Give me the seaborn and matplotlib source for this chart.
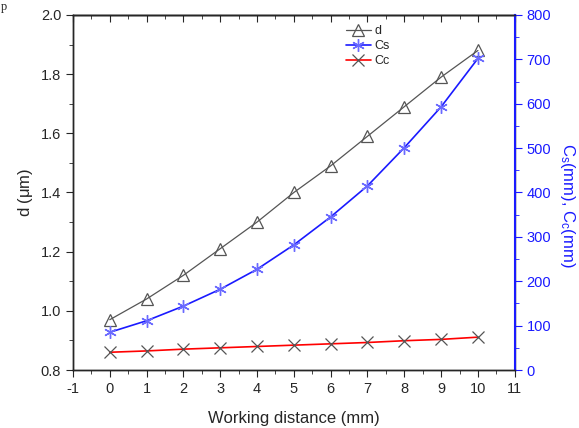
import numpy as np
import pandas as pd
import matplotlib
matplotlib.use('Agg')
import matplotlib.pyplot as plt
import seaborn as sns
from matplotlib.ticker import MultipleLocator

# data
distance = [0, 1, 2, 3, 4, 5, 6, 7, 8, 9, 10]
d_um = [0.97, 1.04, 1.12, 1.21, 1.30, 1.40, 1.49, 1.59, 1.69, 1.79, 1.88]
cs_mm = [85, 111, 144, 182, 227, 282, 345, 415, 501, 593, 702]
cc_mm = [40, 43, 47, 50, 53, 56, 59, 62, 66, 69, 74]

BLUE = '#1a1aff'
GREY = '#555555'

sns.set_style('ticks')
plt.rcParams.update({
    'font.family': ['Liberation Sans', 'DejaVu Sans'],
    'mathtext.default': 'regular',
    'axes.linewidth': 1.0,
})

fig = plt.figure(figsize=(5.79, 4.28), dpi=100)
ax = fig.add_axes([0.126, 0.1355, 0.763, 0.8295])
ax2 = ax.twinx()

sns.lineplot(x=distance, y=d_um, ax=ax, color=GREY, linewidth=0.9,
             marker='^', markersize=8, markerfacecolor='none',
             markeredgecolor=GREY, markeredgewidth=0.9, label='d', legend=False)
sns.lineplot(x=distance, y=cs_mm, ax=ax2, color=BLUE, linewidth=1.2,
             marker=(6, 2, 0), markersize=9, markeredgecolor='#6a6aff',
             markeredgewidth=1.0, label='Cs', legend=False)
sns.lineplot(x=distance, y=cc_mm, ax=ax2, color='red', linewidth=1.2,
             marker='x', markersize=8, markeredgecolor=GREY,
             markeredgewidth=0.9, label='Cc', legend=False)

ax.set_xlim(-1, 11)
ax.set_ylim(0.8, 2.0)
ax2.set_ylim(0, 800)
ax.xaxis.set_major_locator(MultipleLocator(1))
ax.xaxis.set_minor_locator(MultipleLocator(0.5))
ax.yaxis.set_major_locator(MultipleLocator(0.2))
ax.yaxis.set_minor_locator(MultipleLocator(0.1))
ax2.yaxis.set_major_locator(MultipleLocator(100))
ax2.yaxis.set_minor_locator(MultipleLocator(50))
ax.set_xticks(range(-1, 12))
ax.set_xticklabels([str(v) for v in range(-1, 12)])

ax.tick_params(axis='x', which='both', direction='out', labelsize=10.5)
ax.tick_params(axis='x', which='major', length=5)
ax.tick_params(axis='x', which='minor', length=3)
ax.tick_params(axis='y', which='major', direction='out', length=5, labelsize=10.5)
ax.tick_params(axis='y', which='minor', direction='out', length=3)
ax2.tick_params(axis='y', which='major', direction='out', length=5, colors=BLUE, labelsize=10.5)
ax2.tick_params(axis='y', which='minor', direction='out', length=3, colors=BLUE)
ax2.spines['right'].set_color(BLUE)
ax2.spines['right'].set_linewidth(1.5)
for sp in ['top', 'left', 'bottom']:
    ax.spines[sp].set_visible(True)
    ax.spines[sp].set_color('black')
ax.yaxis.set_major_formatter(plt.FuncFormatter(lambda v, _: f'{v:.1f}'))

# top axis ticks point inward
top = ax.secondary_xaxis('top')
top.set_xticks(range(-1, 12))
top.xaxis.set_minor_locator(MultipleLocator(0.5))
top.tick_params(which='both', direction='in', labeltop=False)
top.tick_params(which='major', length=5)
top.tick_params(which='minor', length=3)

ax.set_xlabel('Working distance (mm)', fontsize=12, labelpad=11)
ax.set_ylabel('d ($\\mu$m)', fontsize=12, labelpad=4)
ax2.set_ylabel('C$_s$(mm), C$_c$(mm)', fontsize=12, color=BLUE, rotation=270)
ax2.yaxis.set_label_coords(1.14, 0.465)

h1, l1 = ax.get_legend_handles_labels()
h2, l2 = ax2.get_legend_handles_labels()
ax2.legend(h1 + h2, l1 + l2, loc='upper left', bbox_to_anchor=(0.595, 1.0),
           frameon=False, fontsize=9, handlelength=2.0, labelspacing=0.25,
           handletextpad=0.3, borderaxespad=0.4)

fig.text(0.002, 0.998, 'p', fontsize=9, family='Liberation Serif', va='top', ha='left')

fig.savefig('out.png', dpi=100)
